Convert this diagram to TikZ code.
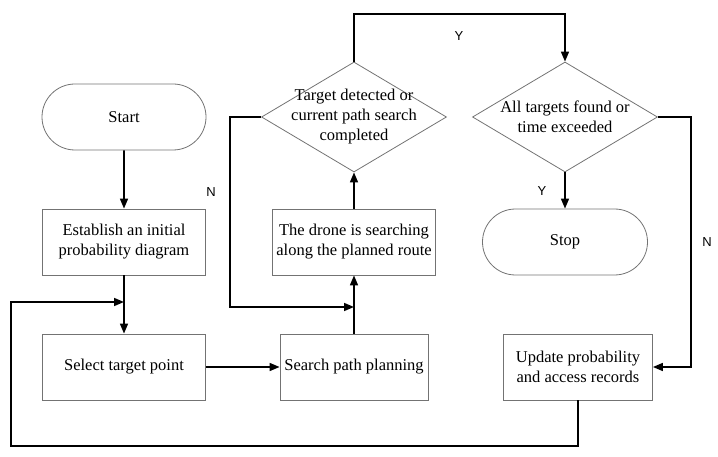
\documentclass[tikz,border=0pt]{standalone}
\usepackage{fontspec}
\setmainfont{Liberation Serif}
\newfontfamily\yesno{Liberation Sans}
\usetikzlibrary{positioning, arrows.meta, calc, shapes.geometric, shapes.misc}

\begin{document}
\begin{tikzpicture}[x=1pt, y=-1pt,
        every node/.style={font=\fontsize{16.5}{20}\selectfont},
        box/.style={rectangle, draw=black!55, line width=0.8pt,
          minimum width=163pt, minimum height=66pt, inner sep=0pt,
          align=center},
        term/.style={rounded rectangle, draw=black!55, line width=0.8pt,
          minimum width=164pt, minimum height=66pt, inner sep=0pt},
        decision/.style={diamond, draw=black!55, line width=0.8pt,
          minimum width=185pt, minimum height=110pt, inner sep=0pt},
        yn/.style={font=\yesno\fontsize{13}{15}\selectfont},
        arr/.style={-{Triangle[length=10pt, width=8pt]}, line width=1.6pt}]

      \useasboundingbox (0,0) rectangle (718,457);

      % left column
      \node[term] (start) at (124,117) {Start};
      \node[box] (est) at (124,242) {Establish an initial\\probability diagram};
      \node[box] (sel) at (124,367) {Select target point};

      % middle column
      \node[box, minimum width=148pt] (plan) at (354,367) {Search path planning};
      \node[box] (drone) at (354,242) {The drone is searching\\along the planned route};
      \node[decision, label={[align=center]center:Target detected or\\current path search\\completed}]
        (dec1) at (354,117) {};

      % right column
      \node[decision, label={[align=center, yshift=0pt]center:All targets found or\\time exceeded}]
        (dec2) at (565,117) {};
      \node[term, minimum width=165pt] (stop) at (565,242) {Stop};
      \node[box, minimum width=149pt] (upd) at (578,367) {Update probability\\and access records};

      \coordinate (j1) at (354,307);
      \coordinate (j2) at (124,302);

      \draw[arr] (start) -- (est);
      \draw[arr] (est) -- (sel);
      \draw[arr] (sel) -- (plan);
      \draw[arr] (plan) -- (drone);
      \draw[arr] (drone) -- (dec1);
      \draw[arr] (dec1.west) -- ++(-31,0) |- (j1);
      \draw[arr] (dec1.north) -- (dec1.north |- 0,14) -| (dec2.north);
      \draw[arr] (dec2) -- (stop);
      \draw[arr] (dec2.east) -- ++(33,0) |- (upd.east);
      \draw[arr] (upd.south) -- (upd.south |- 0,446) -- (11,446) |- (j2);

      \node[yn] (n1) at (211,192) {N};
      \node[yn] (y1) at (459,36) {Y};
      \node[yn] (y2) at (542,191) {Y};
      \node[yn] (n2) at (707,242) {N};
    \end{tikzpicture}
\end{document}
